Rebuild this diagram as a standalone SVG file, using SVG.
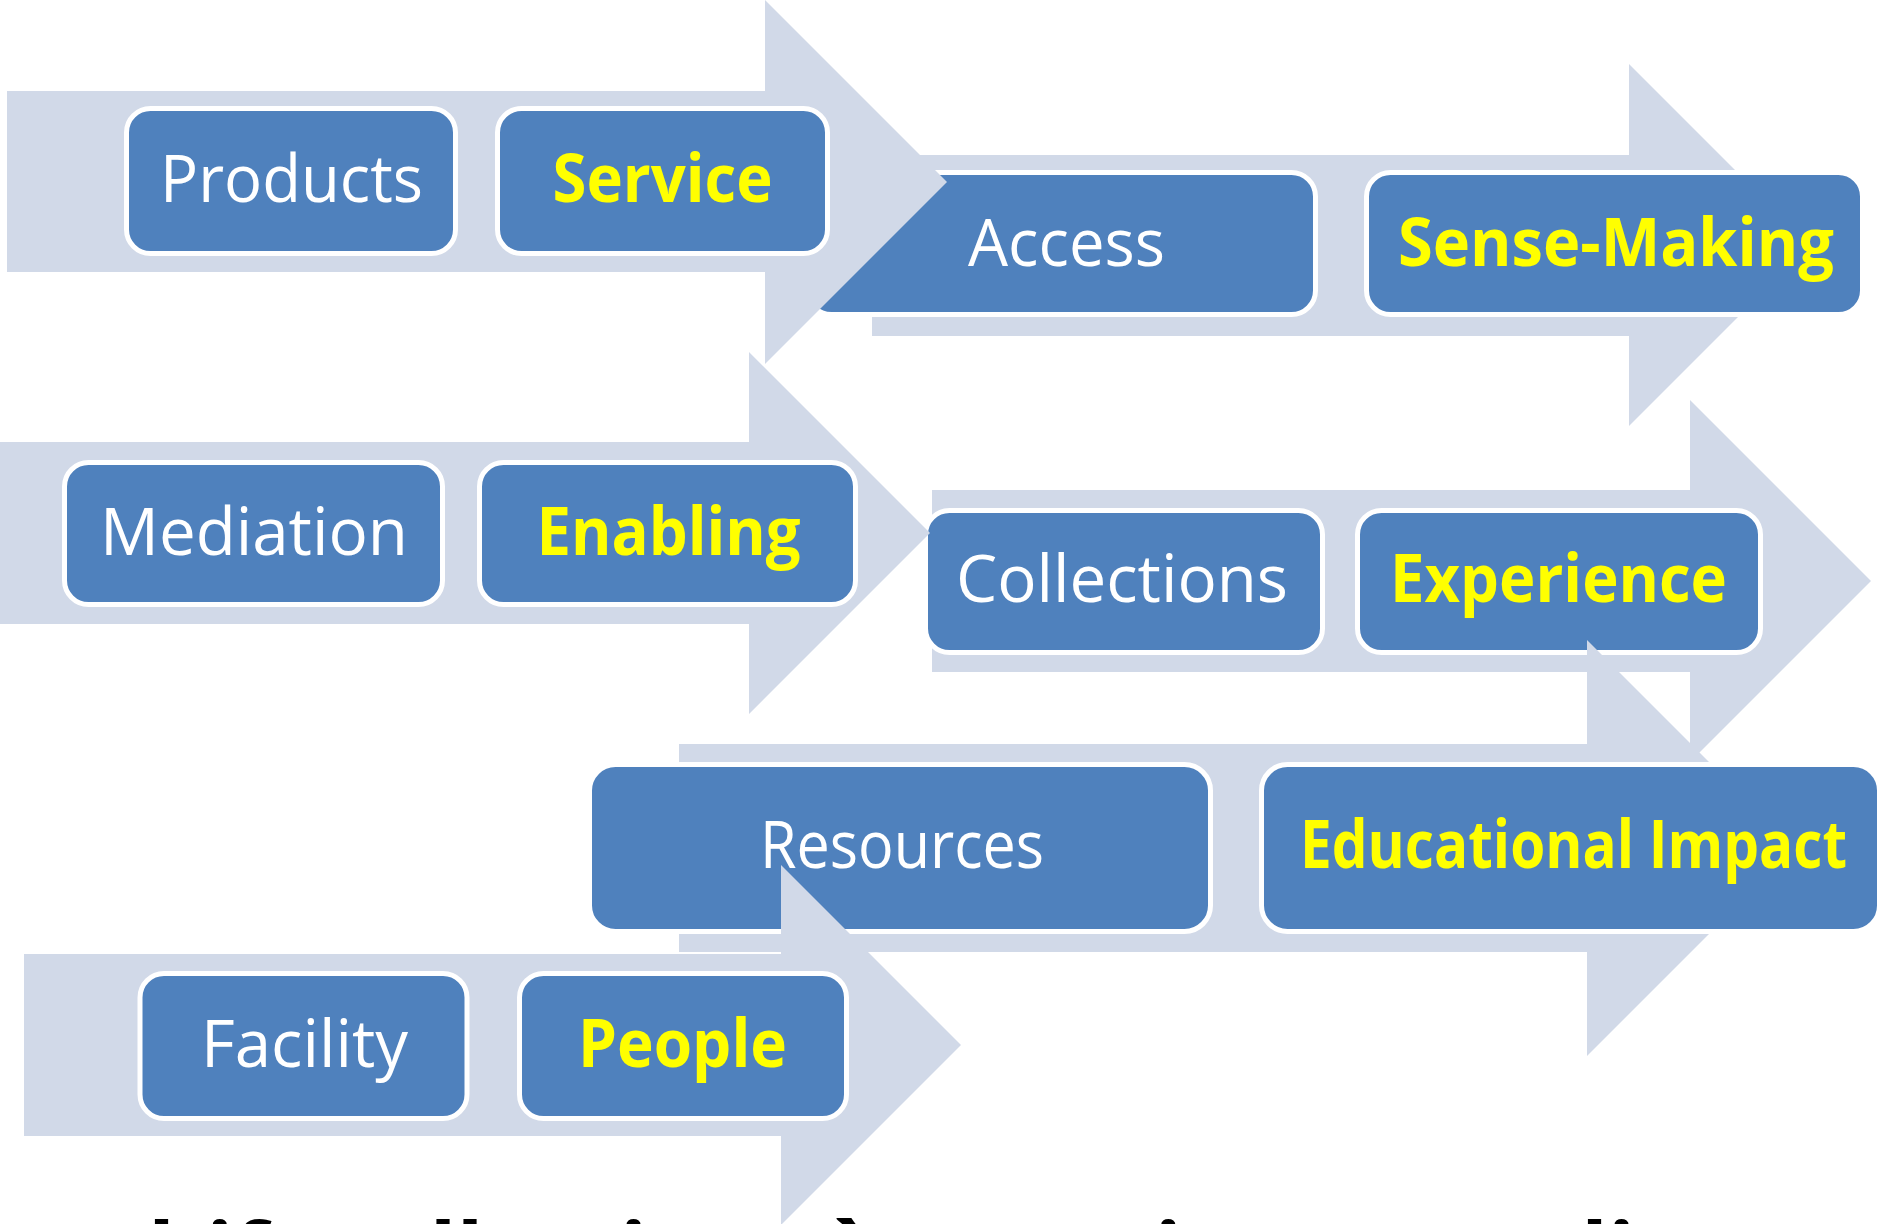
<svg xmlns="http://www.w3.org/2000/svg" width="1884" height="1224" viewBox="0 0 1884 1224">
<style>
.arrow{fill:#D1D9E8}
.box{fill:#4F81BD;stroke:#FFFFFF;stroke-width:5}
.t{font-family:"Open Sans","Liberation Sans",sans-serif;font-size:66px;text-anchor:middle;fill:#FFFFFF}
.y{font-weight:bold;fill:#FFFF00}
.cap{font-family:"Open Sans","Liberation Sans",sans-serif;font-size:90px;font-weight:bold;fill:#000000}
</style>
<rect width="1884" height="1224" fill="#FFFFFF"/>
<g id="row2">
<path class="arrow" d="M872,155 H1629 V64 L1810,245 L1629,426 V336 H872 Z"/>
<g id="access"><rect class="box" x="807.5" y="172.5" width="508" height="142" rx="24"/><text class="t" x="1066.5" y="266" textLength="197" lengthAdjust="spacingAndGlyphs">Access</text></g>
<g id="sense-making"><rect class="box" x="1366.5" y="172.5" width="496" height="142" rx="24"/><text class="t y" x="1616" y="266" textLength="436" lengthAdjust="spacingAndGlyphs">Sense-Making</text></g>
</g>
<g id="row1">
<path class="arrow" d="M7,91 H765 V0 L947,182 L765,364 V272 H7 Z"/>
<g id="products"><rect class="box" x="126.5" y="108.5" width="329" height="145" rx="24"/><text class="t" x="291.5" y="202" textLength="263" lengthAdjust="spacingAndGlyphs">Products</text></g>
<g id="service"><rect class="box" x="497.5" y="108.5" width="330" height="145" rx="24"/><text class="t y" x="662.5" y="202" textLength="220" lengthAdjust="spacingAndGlyphs">Service</text></g>
</g>
<g id="row4">
<path class="arrow" d="M932,490 H1690 V400 L1871,581 L1690,762 V672 H932 Z"/>
<g id="collections"><rect class="box" x="925.5" y="510.5" width="397" height="142" rx="24"/><text class="t" x="1122" y="602" textLength="332" lengthAdjust="spacingAndGlyphs">Collections</text></g>
<g id="experience"><rect class="box" x="1357.5" y="510.5" width="403" height="142" rx="24"/><text class="t y" x="1558.5" y="602" textLength="337" lengthAdjust="spacingAndGlyphs">Experience</text></g>
</g>
<g id="row3">
<path class="arrow" d="M0,442 H749 V352 L930,533 L749,714 V624 H0 Z"/>
<g id="mediation"><rect class="box" x="64.5" y="462.5" width="378" height="142" rx="24"/><text class="t" x="254" y="555" textLength="308" lengthAdjust="spacingAndGlyphs">Mediation</text></g>
<g id="enabling"><rect class="box" x="479.5" y="462.5" width="376" height="142" rx="24"/><text class="t y" x="668.5" y="555" textLength="264" lengthAdjust="spacingAndGlyphs">Enabling</text></g>
</g>
<g id="row5">
<path class="arrow" d="M679,744 H1587 V640 L1795,848 L1587,1056 V952 H679 Z"/>
<g id="resources"><rect class="box" x="589.5" y="764.5" width="621" height="167" rx="26"/><text class="t" x="902" y="868" textLength="284" lengthAdjust="spacingAndGlyphs">Resources</text></g>
<g id="educational-impact"><rect class="box" x="1261.5" y="764.5" width="618" height="167" rx="26"/><text class="t y" x="1573.5" y="868" textLength="547" lengthAdjust="spacingAndGlyphs">Educational Impact</text></g>
</g>
<g id="row6">
<path class="arrow" d="M24,954 H781 V865 L961,1045 L781,1225 V1136 H24 Z"/>
<g id="facility"><rect class="box" x="140" y="973.5" width="327" height="145" rx="24"/><text class="t" x="304.5" y="1067" textLength="207" lengthAdjust="spacingAndGlyphs">Facility</text></g>
<g id="people"><rect class="box" x="519.5" y="973.5" width="327" height="145" rx="24"/><text class="t y" x="682.5" y="1067" textLength="209" lengthAdjust="spacingAndGlyphs">People</text></g>
</g>
<g id="caption">
<text class="cap" x="104" y="1287" textLength="1620" lengthAdjust="spacingAndGlyphs">shift collections è experience quality</text>
</g>
</svg>
